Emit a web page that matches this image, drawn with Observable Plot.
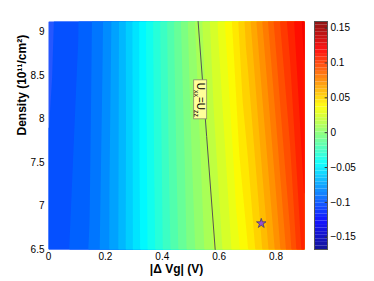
<!DOCTYPE html>
<html><head><meta charset="utf-8">
<script src="https://cdn.jsdelivr.net/npm/d3@7"></script>
<script src="https://cdn.jsdelivr.net/npm/@observablehq/plot@0.6"></script>
<style>
body{margin:0;background:#fff;}
#wrap{position:relative;width:374px;height:281px;}
#wrap svg{position:absolute;top:0;}
</style></head><body><div id="wrap"></div>
<script>
// ---- data ----
const xs = [0,0.05,0.1,0.15,0.2,0.25,0.3,0.35,0.4,0.45,0.5,0.55,0.6,0.65,0.7,0.75,0.8,0.85,0.9];
const densityRows = [6.5, 9.12];
const vBottom = [-0.100,-0.097,-0.0915,-0.0865,-0.0765,-0.0655,-0.0515,-0.038,-0.025,-0.012,0.000,0.011,0.022,0.033,0.045,0.059,0.075,0.093,0.113];
const vTop    = [-0.103,-0.099,-0.0953,-0.088,-0.079,-0.066,-0.051,-0.0365,-0.0225,-0.008,0.0065,0.020,0.033,0.047,0.063,0.080,0.0975,0.112,0.125];
const lineX = [0.586, 0.556, 0.526];
const lineY = [6.5, 7.8, 9.12];
const labelX = [0.535];
const labelY = [8.22];
const labelParts = ["U", "xx", "=U", "zz"];
const starX = [0.748];
const starY = [6.8];
const xTicks = [0, 0.2, 0.4, 0.6, 0.8];
const yTicks = [6.5, 7, 7.5, 8, 8.5, 9];
const cbTicks = [-0.15, -0.1, -0.05, 0, 0.05, 0.1, 0.15];
const cMin = -0.1676, cMax = 0.1595;
const levelBase = -0.0945, levelStep = 0.007;
const xLabel = "|\u0394 Vg| (V)";
const yLabel = "Density (10\u00b9\u00b9/cm\u00b2)";

// ---- derived tables ----
const grid = [];
xs.forEach((x, i) => {
  grid.push({x, y: densityRows[0], v: vBottom[i]});
  grid.push({x, y: densityRows[1], v: vTop[i]});
});
const thresholds = d3.range(levelBase - 2 * levelStep, 0.14, levelStep);
const lineData = lineX.map((x, i) => ({x, y: lineY[i]}));
const labelData = labelX.map((x, i) => ({x, y: labelY[i], text: labelParts.join("")}));
const starData = starX.map((x, i) => ({x, y: starY[i]}));

const jetStops = [0, 0.125, 0.375, 0.625, 0.875, 1];
const jetColors = ["#00008f", "#0000ff", "#00ffff", "#ffff00", "#ff0000", "#800000"];
const colorScale = {type: "linear", domain: jetStops.map(t => cMin + t * (cMax - cMin)), range: jetColors, interpolate: "rgb", clamp: true};
const font = "Liberation Sans, Arial, Helvetica, sans-serif";

const main = Plot.plot({
  width: 374, height: 281,
  marginLeft: 48, marginRight: 70, marginTop: 21, marginBottom: 32,
  style: {fontFamily: font, fontSize: "10px", background: "white", color: "#000"},
  x: {domain: [0, 0.9]},
  y: {domain: [6.5, 9.12]},
  color: colorScale,
  marks: [
    Plot.contour(grid, {x: "x", y: "y", fill: "v", fillOpacity: 0.85, interpolate: "barycentric", thresholds, pixelSize: 1, stroke: "none"}),
    Plot.line(lineData, {x: "x", y: "y", stroke: "#555", strokeWidth: 1}),
    Plot.rect(labelData, {x1: "x", x2: "x", y1: "y", y2: "y", insetLeft: -6.5, insetRight: -6.5, insetTop: -19.5, insetBottom: -19.5, fill: "#ffff9a", stroke: "#8a8a6a", strokeWidth: 0.8}),
    Plot.text(labelData, {x: "x", y: "y", text: "text", rotate: 90, fontSize: 10, fill: "#000",
      render(index, scales, values, dims, ctx, next) {
        const g = next(index, scales, values, dims, ctx);
        d3.select(g).selectAll("text").each(function() {
          const t = d3.select(this);
          t.text(null);
          t.append("tspan").text(labelParts[0]);
          t.append("tspan").attr("font-size", 7).attr("dy", 3).text(labelParts[1]);
          t.append("tspan").attr("dy", -3).text(labelParts[2]);
          t.append("tspan").attr("font-size", 7).attr("dy", 3).text(labelParts[3]);
        });
        return g;
      }}),
    Plot.dot(starData, {x: "x", y: "y", symbol: "star", r: 3, fill: "#9650d2", stroke: "#4c3c60", strokeWidth: 0.8}),
    Plot.axisX(xTicks, {tickSize: 0, tickPadding: 3, label: null, tickFormat: d3.format("~g"), fontSize: 10}),
    Plot.axisY(yTicks, {tickSize: 0, tickPadding: 4, label: null, tickFormat: d3.format("~g"), fontSize: 10}),
    Plot.text([xLabel], {frameAnchor: "bottom", dy: 15, lineAnchor: "top", fontWeight: "bold", fontSize: 12}),
    Plot.text([yLabel], {frameAnchor: "left", dx: -26, rotate: -90, fontWeight: "bold", fontSize: 12})
  ]
});

const nBins = 64;
const cbBins = d3.range(nBins).map(i => ({
  y1: cMin + i * (cMax - cMin) / nBins,
  y2: cMin + (i + 1) * (cMax - cMin) / nBins,
  c: cMin + (i + 0.5) * (cMax - cMin) / nBins
}));

const cbar = Plot.plot({
  width: 74, height: 281,
  marginLeft: 14, marginRight: 47, marginTop: 21, marginBottom: 32,
  style: {fontFamily: font, fontSize: "10px", background: "transparent", color: "#000"},
  x: {domain: [0, 1], axis: null},
  y: {domain: [cMin, cMax]},
  color: colorScale,
  marks: [
    Plot.rect(cbBins, {x1: 0, x2: 1, y1: "y1", y2: "y2", fill: "c", fillOpacity: 0.92}),
    Plot.ruleY(cbTicks, {x1: 0.82, x2: 1, stroke: "#333", strokeWidth: 1}),
    Plot.frame({stroke: "#555", strokeWidth: 1}),
    Plot.axisY(cbTicks, {anchor: "right", tickSize: 0, tickPadding: 3, label: null, tickFormat: d3.format("~g"), fontSize: 10})
  ]
});
cbar.style.left = "300px";
main.style.left = "0px";
const wrap = document.getElementById("wrap");
wrap.appendChild(main);
wrap.appendChild(cbar);
</script>
</body></html>
